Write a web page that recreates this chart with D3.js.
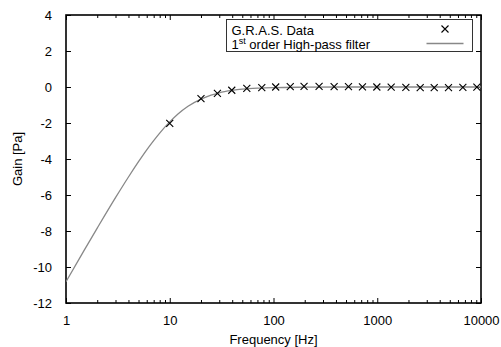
<!DOCTYPE html>
<html>
<head>
<meta charset="utf-8">
<script src="https://cdn.jsdelivr.net/npm/d3@7"></script>
<style>
  body { margin: 0; background: #fff; }
  text { font-family: "Liberation Sans", Arial, sans-serif; fill: #000; }
</style>
</head>
<body>
<svg id="canvas"></svg>
<script>
// measured points (G.R.A.S.)
let dataFreq = [10, 20, 28.8, 39.6, 55.3, 77.1, 105, 145, 197, 275, 384, 528, 720, 991, 1362, 1887, 2594, 3540, 4861, 6686, 9125]
let dataGain = [-2.02, -0.64, -0.35, -0.18, -0.08, -0.04, 0.0, 0.02, 0.03, 0.03, 0.02, 0.02, 0.01, 0.0, -0.01, -0.02, -0.03, -0.04, -0.03, -0.02, -0.01]

// filter curve
let curveFreq = [1, 1.5, 2, 3, 4, 5, 6, 7, 8, 10, 12, 15, 20, 25, 30, 40, 50, 70, 100, 200, 500, 1000, 10000]
let curveGain = [-10.82, -9.06, -7.84, -6.15, -5.0, -4.15, -3.49, -2.98, -2.56, -1.94, -1.5, -1.07, -0.67, -0.45, -0.32, -0.19, -0.12, -0.06, -0.03, -0.01, 0, 0, 0]

let xTicks = [1, 10, 100, 1000, 10000]
let yTicks = [-12, -10, -8, -6, -4, -2, 0, 2, 4]

let width = 501
let height = 347
let padLeft = 66, padRight = 481, padTop = 15, padBottom = 303

let svg = d3.select('#canvas')
  .attr('width', width)
  .attr('height', height)

let xScale = d3.scaleLog().domain([1, 10000]).range([padLeft, padRight])
let yScale = d3.scaleLinear().domain([-12, 4]).range([padBottom, padTop])

// minor ticks 2..9 of each decade
let minorTicks = []
for (let d = 1; d < 10000; d *= 10) {
  for (let k = 2; k <= 9; k++) minorTicks.push(d * k)
}

let addAxis = (axis, tx, ty) => {
  let g = svg.append('g')
    .attr('transform', `translate(${tx}, ${ty})`)
    .call(axis)
  g.select('.domain').remove()
  g.selectAll('line').attr('stroke', '#000').attr('stroke-width', 1)
  return g
}

// bottom
let xb = addAxis(d3.axisBottom(xScale).tickValues(xTicks).tickSize(-5).tickPadding(13).tickFormat(d3.format('d')), 0, padBottom)
xb.selectAll('text').attr('font-size', 13).attr('font-family', '"Liberation Sans", Arial, sans-serif')
addAxis(d3.axisBottom(xScale).tickValues(minorTicks).tickSize(-3).tickFormat(''), 0, padBottom)
// top mirror
addAxis(d3.axisTop(xScale).tickValues(xTicks).tickSize(-5).tickFormat(''), 0, padTop)
addAxis(d3.axisTop(xScale).tickValues(minorTicks).tickSize(-3).tickFormat(''), 0, padTop)

// left
let yl = addAxis(d3.axisLeft(yScale).tickValues(yTicks).tickSize(-5).tickPadding(14).tickFormat(d3.format('d')), padLeft, 0)
yl.selectAll('text').attr('font-size', 13).attr('font-family', '"Liberation Sans", Arial, sans-serif')
  .text(d => d < 0 ? '-' + Math.abs(d) : d)
// right mirror
addAxis(d3.axisRight(yScale).tickValues(yTicks).tickSize(-5).tickFormat(''), padRight, 0)

// frame
svg.append('rect')
  .attr('x', padLeft).attr('y', padTop)
  .attr('width', padRight - padLeft).attr('height', padBottom - padTop)
  .attr('fill', 'none').attr('stroke', '#000').attr('stroke-width', 1.6)

// axis titles
svg.append('text')
  .attr('x', (padLeft + padRight) / 2).attr('y', 344)
  .attr('text-anchor', 'middle').attr('font-size', 13)
  .text('Frequency [Hz]')

svg.append('text')
  .attr('transform', `translate(21.5, ${(padTop + padBottom) / 2}) rotate(-90)`)
  .attr('text-anchor', 'middle').attr('font-size', 13)
  .text('Gain [Pa]')

// filter curve
svg.append('clipPath').attr('id', 'clip')
  .append('rect').attr('x', padLeft).attr('y', padTop).attr('width', padRight - padLeft).attr('height', padBottom - padTop)

let line = d3.line()
  .x((d, i) => xScale(curveFreq[i]))
  .y((d, i) => yScale(curveGain[i]))
  .curve(d3.curveMonotoneX)

svg.append('path')
  .datum(curveGain)
  .attr('d', line)
  .attr('fill', 'none')
  .attr('stroke', '#888')
  .attr('stroke-width', 1.3)
  .attr('clip-path', 'url(#clip)')

// crosses
let cross = (g, cx, cy) => {
  let s = 3.5
  g.append('path')
    .attr('d', `M${cx - s},${cy - s}L${cx + s},${cy + s}M${cx - s},${cy + s}L${cx + s},${cy - s}`)
    .attr('stroke', '#000').attr('stroke-width', 1.1).attr('fill', 'none')
}

let pts = svg.append('g')
dataFreq.forEach((f, i) => {
  cross(pts, xScale(f), yScale(dataGain[i]))
})

// legend
let lg = svg.append('g')
lg.append('rect')
  .attr('x', 226.5).attr('y', 19.5).attr('width', 246).attr('height', 32)
  .attr('fill', '#fff').attr('stroke', '#333').attr('stroke-width', 1)

lg.append('text').attr('x', 231.5).attr('y', 35).attr('font-size', 13).text('G.R.A.S. Data')
cross(lg, 445, 29)

let t2 = lg.append('text').attr('x', 231.5).attr('y', 48.5).attr('font-size', 13)
t2.append('tspan').text('1')
t2.append('tspan').attr('dy', -5).attr('font-size', 9).text('st')
t2.append('tspan').attr('dy', 5).text(' order High-pass filter')

lg.append('line')
  .attr('x1', 426.5).attr('x2', 463.5).attr('y1', 43.5).attr('y2', 43.5)
  .attr('stroke', '#888').attr('stroke-width', 1.3)
</script>
</body>
</html>
